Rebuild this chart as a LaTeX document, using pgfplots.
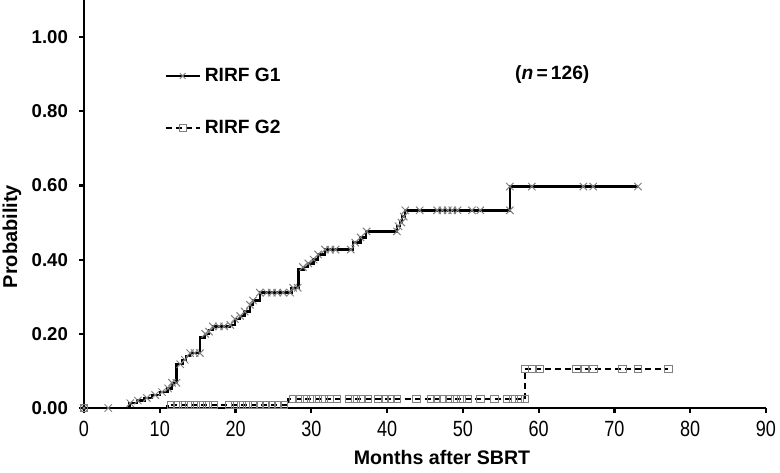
\documentclass[border=0pt]{standalone}
\usepackage{pgfplots}
\pgfplotsset{compat=1.18}
\usepackage{fontspec}
\setmainfont{Liberation Sans}
\newfontfamily\condfont[FakeStretch=0.82]{Liberation Sans}
\begin{document}
\begin{tikzpicture}
\begin{axis}[
  scale only axis,
  width=341pt, height=204pt,
  xmin=0, xmax=90, ymin=0, ymax=1.1,
  axis lines=left,
  axis line style={line width=1.4pt,-},
  xtick={0,10,...,90},
  ytick={0,0.2,0.4,0.6,0.8,1.0},
  tick align=outside,
  major tick length=2.5pt,
  tick style={line width=1.1pt,black},
  /pgf/number format/assume math mode=true,
  yticklabel style={/pgf/number format/fixed,/pgf/number format/fixed zerofill,/pgf/number format/precision=2,font=\fontsize{9.3}{10}\selectfont\bfseries,xshift=-2pt},
  xticklabel style={font=\fontsize{11}{12}\selectfont\condfont,yshift=-0.5pt},
  xlabel={Months after SBRT},
  ylabel={Probability},
  xlabel style={at={(rel axis cs:0.5,0)},anchor=center,yshift=-24.5pt,xshift=8.5pt,font=\fontsize{9.8}{11}\selectfont\bfseries},
  ylabel style={at={(rel axis cs:0,0.42)},anchor=center,yshift=36pt,font=\fontsize{10}{11}\selectfont\bfseries},
  clip=false,
  legend style={at={(axis cs:9.8,0.94)},anchor=north west,draw=none,fill=none,
    font=\fontsize{9.6}{11}\selectfont\bfseries,row sep=14pt,
    legend cell align=left},
]
\addlegendimage{black,line width=1pt,mark=x,mark size=2pt,mark options={gray,solid,line width=0.5pt}}
\addlegendentry{RIRF G1}
\addlegendimage{black,line width=1pt,dash pattern=on 3pt off 2pt,mark=square,mark size=1.8pt,mark options={gray,solid,line width=0.5pt}}
\addlegendentry{RIRF G2}

% G1 step curve
\addplot[const plot, black, line width=1.2pt, forget plot] coordinates {
(0,0) (6,0.013) (7,0.02) (8,0.027) (9,0.035) (10,0.043) (11,0.053) (11.6,0.068)
(12.2,0.118) (13,0.13) (13.5,0.14) (14,0.148) (15.3,0.19) (16,0.2) (16.5,0.21)
(17,0.22) (19.3,0.224) (19.9,0.24) (20.6,0.248) (21.2,0.26) (21.9,0.278)
(22.3,0.29) (23.2,0.311) (27.4,0.324) (28.3,0.373) (29,0.38) (29.6,0.39)
(30.3,0.40) (30.9,0.414) (31.8,0.427) (35.5,0.446) (36.5,0.46) (37.2,0.476)
(41.3,0.49) (41.7,0.50) (42,0.516) (42.4,0.533) (56.2,0.597) (73.1,0.597)
};
% G1 censor marks
\addplot[only marks, mark=x, mark size=2.6pt, gray, mark options={line width=0.5pt}, forget plot] coordinates {
(0,0) (3.2,0) (6.1,0.013) (7.1,0.02) (8.3,0.027) (9.4,0.035) (10.3,0.043)
(11.1,0.053) (11.6,0.068) (12.2,0.068) (12.7,0.118) (13.3,0.13) (14,0.148)
(14.6,0.148) (15.3,0.148) (16,0.2) (16.5,0.206) (17,0.22) (17.8,0.22)
(18.5,0.22) (19.3,0.224) (19.9,0.24) (20.6,0.248) (21.2,0.26) (21.9,0.278)
(22.3,0.29) (23.2,0.311) (24.1,0.311) (24.8,0.311) (25.5,0.311) (26.3,0.311)
(27.2,0.311) (27.6,0.324) (28.2,0.324) (28.9,0.38) (29.6,0.39) (30.3,0.40)
(30.9,0.414) (31.8,0.427) (32.5,0.427) (33.2,0.427) (35.2,0.427) (35.8,0.446)
(36.5,0.46) (37.3,0.476) (41.3,0.476) (41.5,0.49) (41.9,0.50) (42.2,0.516)
(42.4,0.533) (44.3,0.533) (46.6,0.533) (47.3,0.533) (48,0.533) (48.6,0.533)
(49.3,0.533) (51.2,0.533) (52.3,0.533) (56.2,0.533) (56.2,0.597) (59.1,0.597)
(65.9,0.597) (67.2,0.597) (73.1,0.597)
};
% G2 step curve
\addplot[const plot, black, line width=1.2pt, dash pattern=on 3pt off 2pt, forget plot] coordinates {
(0,0) (11,0.008) (27,0.024) (58.2,0.105) (77.1,0.105)
};
% G2 censor marks
\addplot[only marks, mark=square, mark size=1.9pt, gray, mark options={line width=0.5pt}, forget plot] coordinates {
(0,0) (11.5,0.008) (12.3,0.008) (13.1,0.008) (13.9,0.008) (14.7,0.008) (15.5,0.008)
(16.3,0.008) (17.1,0.008) (19.2,0.008) (20,0.008) (20.8,0.008) (21.6,0.008)
(22.4,0.008) (23.2,0.008) (24,0.008) (24.8,0.008) (25.6,0.008) (26.4,0.008)
(27.6,0.024) (28.4,0.024) (29.2,0.024) (30,0.024) (30.8,0.024) (31.6,0.024)
(32.4,0.024) (33.4,0.024) (35,0.024) (35.8,0.024) (36.6,0.024) (37.5,0.024)
(38.9,0.024) (39.7,0.024) (40.5,0.024) (41.3,0.024) (43.9,0.024) (45.8,0.024)
(46.6,0.024) (47.4,0.024) (48.2,0.024) (49,0.024) (49.8,0.024) (50.6,0.024)
(52.3,0.024) (54.2,0.024) (55.9,0.024) (56.7,0.024) (57.5,0.024) (58.2,0.024)
(58.2,0.105) (59.1,0.105) (60.2,0.105) (65,0.105) (66.1,0.105) (67.2,0.105)
(71.1,0.105) (73.1,0.105) (77.1,0.105)
};
\node[font=\fontsize{9.6}{11}\selectfont\bfseries] at (axis cs:61.8,0.90) {(\textit{n}\,=\,126)};
\end{axis}
\pgfresetboundingbox
\path[use as bounding box] (-42pt,-32pt) rectangle (348pt,204pt);
\end{tikzpicture}
\end{document}
